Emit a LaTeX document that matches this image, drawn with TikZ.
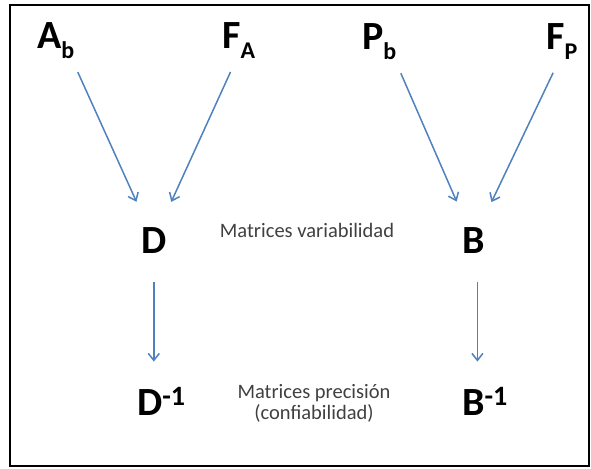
\documentclass[tikz,border=0pt]{standalone}
\usepackage{fontspec}
\setmainfont{Carlito}
\usetikzlibrary{arrows.meta}
\definecolor{azul}{RGB}{79,129,189}
\newcommand{\sub}[1]{{\fontsize{24}{24}\selectfont\raisebox{-10pt}{#1}}}
\tikzset{letra/.style={inner sep=0pt,anchor=base west,font=\fontsize{40}{40}\selectfont\bfseries},
    nota/.style={inner sep=0pt,text=black!75,font=\fontsize{20.5}{21}\selectfont,align=center},
    flecha/.style={draw=azul,line width=1.5pt,-{Straight Barb[length=7pt,width=11pt,line width=1.5pt]}}}
\begin{document}
\begin{tikzpicture}[x=1pt,y=-1pt]
    \useasboundingbox (0,0) rectangle (591,468);
    % Frame
    \draw[line width=2pt] (10,5) rectangle (589,466);

    % Top row
    \node[letra] (ab) at (37,49) {A\sub{b}};
    \node[letra] (fa) at (222,49) {F\sub{A}};
    \node[letra] (pb) at (362,50) {P\sub{b}};
    \node[letra] (fp) at (546,50) {F\sub{P}};

    % Matrices
    \node[letra] (d) at (141,253) {D};
    \node[letra] (b) at (462,253) {B};
    \node[letra] (dinv) at (137,415) {D\textsuperscript{-1}};
    \node[letra] (binv) at (462,415) {B\textsuperscript{-1}};

    % Notes
    \node[nota] (var) at (307,230) {Matrices variabilidad};
    \node[nota] (prec) at (314,403) {Matrices precisión\\(confiabilidad)};

    % Arrows
    \draw[flecha,shorten <=34pt,shorten >=42pt] ([xshift=8pt]ab.center) -- (d.center);
    \draw[flecha,shorten <=34pt,shorten >=42pt] ([xshift=6pt]fa.center) -- (d.center);
    \draw[flecha,shorten <=34pt,shorten >=42pt] ([xshift=8pt]pb.center) -- (b.center);
    \draw[flecha,shorten <=34pt,shorten >=42pt] ([xshift=6pt]fp.center) -- (b.center);
    \draw[flecha,shorten <=29pt,shorten >=26pt] (d.south) -- (d.south |- dinv.north);
    \draw[flecha,shorten <=29pt,shorten >=26pt] ([xshift=4pt]b.south) -- ([xshift=4pt]b.south |- binv.north);
\end{tikzpicture}
\end{document}
